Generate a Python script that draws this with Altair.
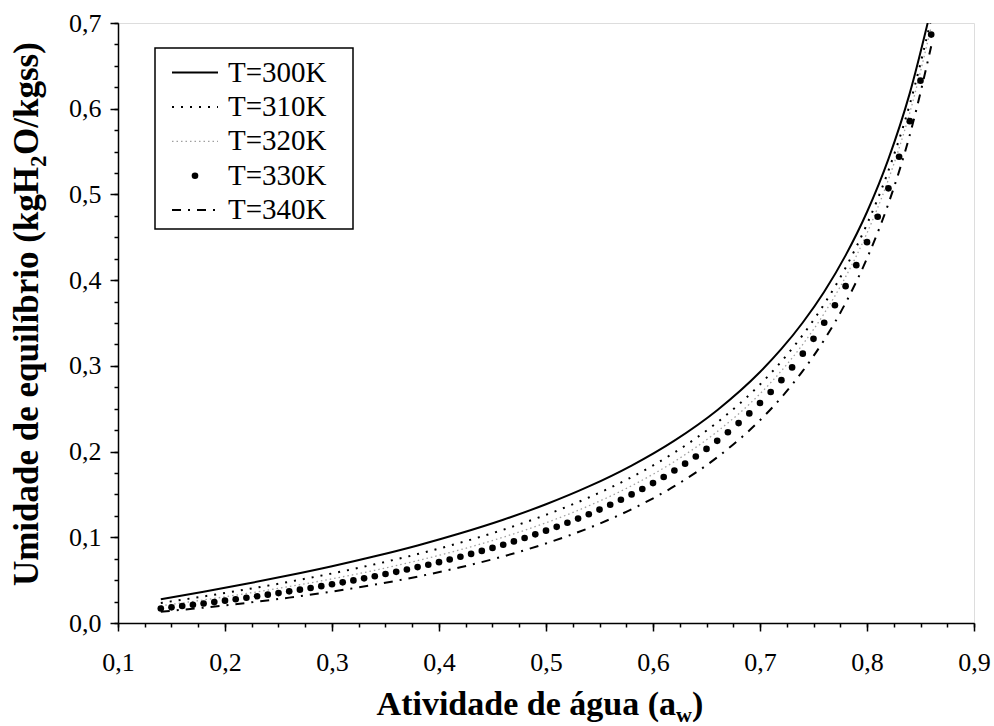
import altair as alt
import pandas as pd

FONT = "Liberation Serif"

# water activity grid for the model curves
aw_line = [0.14, 0.18, 0.22, 0.26, 0.30, 0.34, 0.38, 0.42, 0.46, 0.50, 0.54, 0.58,
           0.62, 0.66, 0.70, 0.72, 0.74, 0.76, 0.78, 0.80, 0.82, 0.84, 0.86]
m300 = [0.0277, 0.0365, 0.0457, 0.0556, 0.0662, 0.0778, 0.0905, 0.1047, 0.1205, 0.1385, 0.1593, 0.1837,
        0.2128, 0.2483, 0.2928, 0.3197, 0.3506, 0.3865, 0.4289, 0.4795, 0.5412, 0.6182, 0.7171]
m310 = [0.0234, 0.0310, 0.0392, 0.0481, 0.0578, 0.0685, 0.0804, 0.0937, 0.1088, 0.1262, 0.1464, 0.1702,
        0.1988, 0.2340, 0.2783, 0.3052, 0.3361, 0.3721, 0.4145, 0.4654, 0.5276, 0.6052, 0.7048]
m320 = [0.0201, 0.0269, 0.0344, 0.0425, 0.0515, 0.0615, 0.0728, 0.0855, 0.1001, 0.1169, 0.1367, 0.1601,
        0.1884, 0.2233, 0.2674, 0.2942, 0.3251, 0.3612, 0.4038, 0.4549, 0.5173, 0.5953, 0.6957]
m340 = [0.0131, 0.0179, 0.0234, 0.0296, 0.0367, 0.0448, 0.0541, 0.0650, 0.0777, 0.0928, 0.1108, 0.1327,
        0.1596, 0.1933, 0.2366, 0.2632, 0.2941, 0.3303, 0.3734, 0.4254, 0.4892, 0.5694, 0.6729]

aw_dots = [0.14, 0.15, 0.16, 0.17, 0.18, 0.19, 0.20, 0.21, 0.22, 0.23, 0.24, 0.25, 0.26, 0.27, 0.28,
           0.29, 0.30, 0.31, 0.32, 0.33, 0.34, 0.35, 0.36, 0.37, 0.38, 0.39, 0.40, 0.41, 0.42, 0.43,
           0.44, 0.45, 0.46, 0.47, 0.48, 0.49, 0.50, 0.51, 0.52, 0.53, 0.54, 0.55, 0.56, 0.57, 0.58,
           0.59, 0.60, 0.61, 0.62, 0.63, 0.64, 0.65, 0.66, 0.67, 0.68, 0.69, 0.70, 0.71, 0.72, 0.73,
           0.74, 0.75, 0.76, 0.77, 0.78, 0.79, 0.80, 0.81, 0.82, 0.83, 0.84, 0.85, 0.86]
m330 = [0.0169, 0.0183, 0.0198, 0.0213, 0.0228, 0.0244, 0.0261, 0.0277, 0.0295, 0.0312, 0.0331, 0.0349,
        0.0369, 0.0389, 0.0409, 0.0430, 0.0452, 0.0474, 0.0497, 0.0521, 0.0545, 0.0571, 0.0597, 0.0624,
        0.0652, 0.0680, 0.0710, 0.0741, 0.0773, 0.0806, 0.0841, 0.0876, 0.0913, 0.0952, 0.0992, 0.1034,
        0.1077, 0.1122, 0.1169, 0.1218, 0.1269, 0.1323, 0.1379, 0.1438, 0.1500, 0.1564, 0.1632, 0.1704,
        0.1779, 0.1859, 0.1943, 0.2031, 0.2125, 0.2225, 0.2332, 0.2445, 0.2566, 0.2695, 0.2833, 0.2982,
        0.3142, 0.3315, 0.3503, 0.3707, 0.3930, 0.4175, 0.4443, 0.4740, 0.5071, 0.5440, 0.5855, 0.6327,
        0.6865]

legend_labels = ["T=300K", "T=310K", "T=320K", "T=330K", "T=340K"]
x_major = [0.1, 0.2, 0.3, 0.4, 0.5, 0.6, 0.7, 0.8, 0.9]
y_major = [0.0, 0.1, 0.2, 0.3, 0.4, 0.5, 0.6, 0.7]
x_minor = [round(0.1 + 0.025 * i, 3) for i in range(33)]
y_minor = [round(0.025 * i, 3) for i in range(29)]

label_expr = "replace(format(datum.value, '.1f'), '.', ',')"

x_scale = alt.Scale(domain=[0.1, 0.9], nice=False, zero=False)
y_scale = alt.Scale(domain=[0.0, 0.7], nice=False, zero=False)

major_kw = dict(grid=False, title=None, labelFont=FONT, labelFontSize=26, labelColor="black",
                domainColor="black", domainWidth=1.5, tickColor="black", tickWidth=1.5,
                tickSize=8, labelOverlap=False, labelFlush=False, labelExpr=label_expr)
minor_kw = dict(grid=False, title=None, labels=False, domain=False, tickColor="black",
                tickWidth=1.5, tickSize=4)

lines_df = pd.DataFrame({"aw": aw_line, "m300": m300, "m310": m310, "m320": m320, "m340": m340})
dots_df = pd.DataFrame({"aw": aw_dots, "m330": m330})


def line_layer(col, **style):
    return alt.Chart(lines_df).mark_line(interpolate="monotone", clip=True, **style).encode(
        x=alt.X("aw:Q", scale=x_scale, axis=None),
        y=alt.Y(col + ":Q", scale=y_scale, axis=None),
    )


minor_axes = alt.Chart(lines_df).mark_point(opacity=0).encode(
    x=alt.X("aw:Q", scale=x_scale, axis=alt.Axis(values=x_minor, orient="bottom", **minor_kw)),
    y=alt.Y("m300:Q", scale=y_scale, axis=alt.Axis(values=y_minor, orient="left", **minor_kw)),
)
base = alt.Chart(lines_df).mark_line(interpolate="monotone", clip=True, color="black", strokeWidth=2).encode(
    x=alt.X("aw:Q", scale=x_scale,
            axis=alt.Axis(values=x_major, orient="bottom", labelPadding=18, **major_kw)),
    y=alt.Y("m300:Q", scale=y_scale,
            axis=alt.Axis(values=y_major, orient="left", labelPadding=9, **major_kw)),
)
l310 = line_layer("m310", color="black", strokeWidth=2, strokeDash=[2, 7])
l320 = line_layer("m320", color="#a0a0a0", strokeWidth=1.3, strokeDash=[1.5, 3])
l340 = line_layer("m340", color="black", strokeWidth=2, strokeDash=[9, 7, 2, 7])
p330 = alt.Chart(dots_df).mark_point(filled=True, size=44, color="black", opacity=1, clip=True).encode(
    x=alt.X("aw:Q", scale=x_scale, axis=None),
    y=alt.Y("m330:Q", scale=y_scale, axis=None),
)

one = pd.DataFrame({"k": [0]})

# legend (custom)
leg_rows = [49.5, 83.9, 118.3, 152.7, 187.1]
legend_box = alt.Chart(one).mark_rect(fill="white", stroke="black", strokeWidth=1.5).encode(
    x=alt.value(37), x2=alt.value(235), y=alt.value(25), y2=alt.value(206))
leg_layers = [legend_box]
sym_styles = [
    dict(color="black", strokeWidth=2),
    dict(color="black", strokeWidth=2, strokeDash=[2, 7]),
    dict(color="#a0a0a0", strokeWidth=1.3, strokeDash=[1.5, 3]),
    None,
    dict(color="black", strokeWidth=2, strokeDash=[9, 7, 2, 7]),
]
for i, lab in enumerate(legend_labels):
    yv = leg_rows[i]
    if sym_styles[i] is None:
        leg_layers.append(alt.Chart(one).mark_point(filled=True, size=44, color="black", opacity=1).encode(
            x=alt.value(77), y=alt.value(yv)))
    else:
        leg_layers.append(alt.Chart(one).mark_rule(**sym_styles[i]).encode(
            x=alt.value(54), x2=alt.value(100), y=alt.value(yv)))
    leg_layers.append(alt.Chart(one).mark_text(text=lab, align="left", baseline="middle", font=FONT,
                                               fontSize=29, color="black").encode(
        x=alt.value(110), y=alt.value(yv)))

# axis titles with subscripts
tkw = dict(font=FONT, fontWeight="bold", color="black")
xt1 = alt.Chart(one).mark_text(text="Atividade de água (a", align="right", baseline="alphabetic",
                               fontSize=34, **tkw).encode(x=alt.value(558), y=alt.value(692))
xt2 = alt.Chart(one).mark_text(text="w", align="left", baseline="alphabetic",
                               fontSize=22, **tkw).encode(x=alt.value(558), y=alt.value(699))
xt3 = alt.Chart(one).mark_text(text=")", align="left", baseline="alphabetic",
                               fontSize=34, **tkw).encode(x=alt.value(574), y=alt.value(692))
yt1 = alt.Chart(one).mark_text(text="Umidade de equilíbrio (kgH", align="right", baseline="alphabetic",
                               angle=270, fontSize=35, **tkw).encode(x=alt.value(-80), y=alt.value(144))
yt2 = alt.Chart(one).mark_text(text="2", align="left", baseline="alphabetic",
                               angle=270, fontSize=23, **tkw).encode(x=alt.value(-72), y=alt.value(144))
yt3 = alt.Chart(one).mark_text(text="O/kgss)", align="left", baseline="alphabetic",
                               angle=270, fontSize=35, **tkw).encode(x=alt.value(-80), y=alt.value(132))

chart = alt.layer(minor_axes, base, l310, l320, l340, p330, *leg_layers, xt1, xt2, xt3, yt1, yt2, yt3).resolve_axis(
    x="independent", y="independent"
).properties(
    width=856, height=600,
    padding={"left": 118, "top": 23, "right": 20, "bottom": 103},
    autosize=alt.AutoSizeParams(type="none"),
    background="white",
).configure_view(stroke="black", strokeWidth=1.5).configure_axis(
    labelFont=FONT, labelFontSize=26, labelColor="black"
).configure(font=FONT)

chart.save("out.html", embed_options={"renderer": "svg", "actions": False})
